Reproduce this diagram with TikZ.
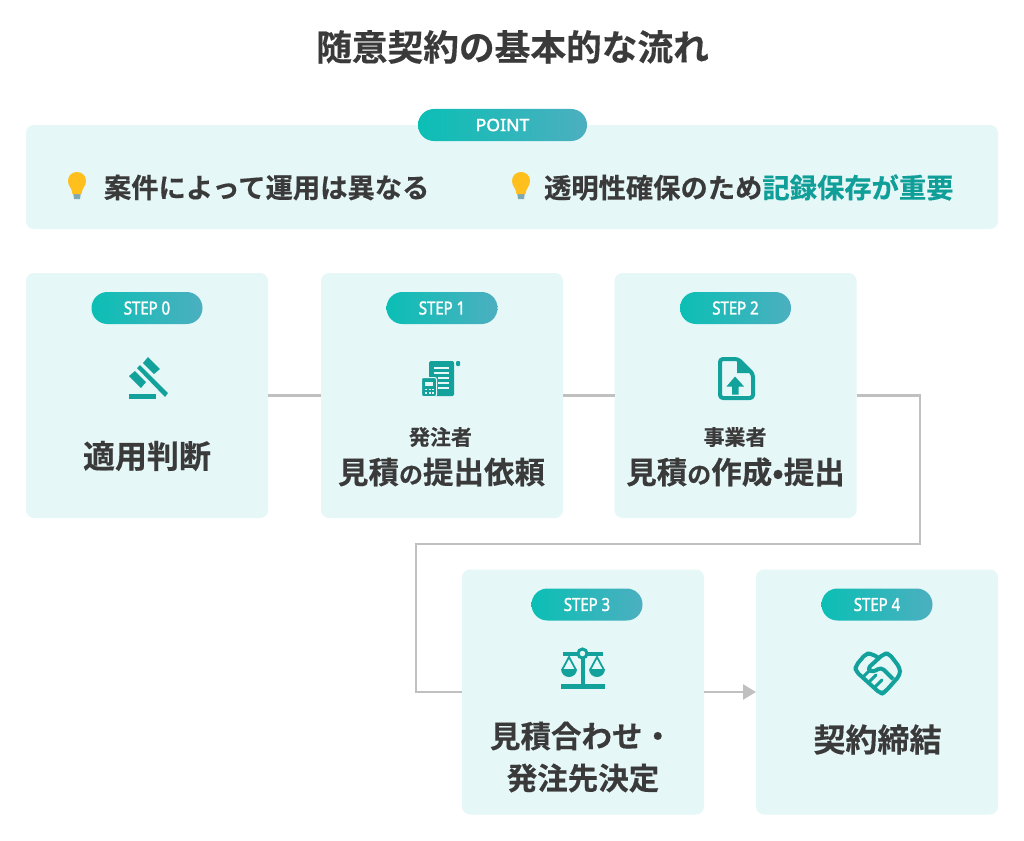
\documentclass[tikz,border=0pt]{standalone}
\usepackage{fontspec}
\setmainfont{Noto Sans CJK JP}[BoldFont={Noto Sans CJK JP Bold}, BoldFeatures={FakeBold=0.35}]
\newfontfamily\pillfont[FakeStretch=0.83, FakeBold=1.6]{Noto Sans}
\newfontfamily\pointfont[FakeStretch=1.04, FakeBold=2]{Noto Sans}
\usetikzlibrary{positioning,arrows.meta}
\definecolor{panelbg}{HTML}{E6F7F8}
\definecolor{inkdark}{HTML}{3A3A3A}
\definecolor{tealicon}{HTML}{12A19B}
\definecolor{tealtext}{HTML}{0F9F98}
\definecolor{pillleft}{HTML}{0BBFB5}
\definecolor{pillright}{HTML}{4CAFC0}
\definecolor{flowgray}{HTML}{C0C0C0}
\definecolor{bulbyellow}{HTML}{FFC01E}
\definecolor{bulbbase}{HTML}{7FA9B2}
\newcommand{\jp}[1]{\fontsize{#1}{#1}\selectfont\bfseries\color{inkdark}}
\begin{document}
\begin{tikzpicture}[x=1pt, y=-1pt, inner sep=0pt, outer sep=0pt,
    card/.style={rectangle, fill=panelbg, rounded corners=8pt, minimum width=242pt, minimum height=245pt},
    pill/.style={rectangle, rounded corners=15.9pt, left color=pillleft, right color=pillright, minimum height=32pt, text=white, font=\pillfont\fontsize{18}{18}\selectfont},
    steppill/.style={pill, minimum width=111pt},
    flowline/.style={draw=flowgray, line width=2.4pt},
    iconfill/.style={fill=tealicon, draw=none},
    iconline/.style={draw=tealicon, line width=4pt},
    bigtext/.style={font=\jp{32}, text=inkdark},
    midtext/.style={font=\jp{30.5}, text=inkdark},
    smalltext/.style={font=\jp{21}, text=inkdark},
    pointtext/.style={font=\jp{27.3}, text=inkdark}]

    \useasboundingbox (0,0) rectangle (1024,840);
    \fill[white] (0,0) rectangle (1024,840);

    % Title
    \node[font=\jp{35.7}, text=inkdark] (title) at (512.5,47) {随意契約の基本的な流れ};

    % Point panel
    \node[rectangle, fill=panelbg, rounded corners=8pt, minimum width=972pt, minimum height=104pt] (panel) at (512,177) {};
    \node[pill, minimum width=169pt, font=\pointfont\fontsize{17}{17}\selectfont] (point) at (502.5,125) {POINT};
    \node[pointtext, anchor=west] (case) at (104,187.5) {案件によって運用は異なる};
    \node[pointtext, anchor=west] (record) at (544,187.5) {透明性確保のため{\color{tealtext}記録保存が重要}};

    % Bulbs
    \foreach \bx in {77,521} {
        \fill[bulbbase] (\bx-4,192) -- (\bx+4,192) -- (\bx+3,199) -- (\bx-3,199) -- cycle;
        \fill[bulbyellow] (\bx-4.5,194) .. controls (\bx-5,188) and (\bx-9,186) .. (\bx-9,181)
            .. controls (\bx-9,169) and (\bx+9,169) .. (\bx+9,181)
            .. controls (\bx+9,186) and (\bx+5,188) .. (\bx+4.5,194) -- cycle;
    }

    % Cards
    \coordinate (bendA) at (920,544);
    \coordinate (bendB) at (416,544);
    \node[card] (step0) at (147,395.5) {};
    \node[card, right=53pt of step0] (step1) {};
    \node[card, right=51.5pt of step1] (step2) {};
    \node[card] (step3) at (583,692) {};
    \node[card, right=52pt of step3] (step4) {};

    % Connectors
    \draw[flowline] (step0) -- (step1);
    \draw[flowline] (step1) -- (step2);
    \draw[flowline] (step2.east) -| (bendA) -- (bendB) |- (step3.west);
    \draw[flowline, -{Triangle[length=13pt, width=15pt]}] (step3.east) -- (step4.west);

    % Step labels
    \node[steppill, below=19pt of step0.north] (pill0) {STEP 0};
    \node[steppill, below=19pt of step1.north] (pill1) {STEP 1};
    \node[steppill, below=19pt of step2.north] (pill2) {STEP 2};
    \node[steppill, below=19pt of step3.north, xshift=4pt] (pill3) {STEP 3};
    \node[steppill, below=19pt of step4.north] (pill4) {STEP 4};

    % Card texts
    \node[bigtext] (name0) at (147,456) {適用判断};
    \node[smalltext] (who1) at (440.5,437) {発注者};
    \node[midtext] (name1) at (441.5,472) {見積{\fontsize{24}{24}\selectfont の}提出依頼};
    \node[smalltext] (who2) at (735,437) {事業者};
    \node[midtext] (name2) at (735.5,472) {見積{\fontsize{24}{24}\selectfont の}作成•提出};
    \node[midtext] (name3a) at (581.5,736) {見積合わせ・};
    \node[midtext] (name3b) at (583,778) {発注先決定};
    \node[bigtext] (name4) at (877.5,739.5) {契約締結};

    % Gavel
    \fill[iconfill] (148,357) -- (160,369) -- (154,374) -- (143,363) -- cycle;
    \fill[iconfill] (135,371) -- (146,382) -- (141,388) -- (129,376) -- cycle;
    \fill[iconfill] (140,365) -- (168,393) -- (165,397) -- (137,368) -- cycle;
    \fill[iconfill] (129,394) rectangle (156,399);

    % Estimate sheet and calculator
    \fill[iconfill, rounded corners=1.5pt] (429,361) rectangle (454,396);
    \fill[iconfill, rounded corners=1pt] (456,361) rectangle (460,366);
    \foreach \ly/\lx in {368/434, 373/434, 378/438, 383/438, 388/438}
        \fill[panelbg] (\lx,\ly-0.8) rectangle (449,\ly+0.8);
    \fill[iconfill, rounded corners=2pt, draw=panelbg, line width=1pt] (421.5,377.5) rectangle (436.5,396.5);
    \fill[panelbg] (425,381.5) rectangle (432.5,386);
    \foreach \kx in {425,428.5,432} \foreach \ky in {388.5,392}
        \fill[panelbg] (\kx,\ky) rectangle ++(2.2,1.8);

    % File with upward arrow
    \draw[iconline, rounded corners=3pt, line join=round] (738,359) -- (720,359) -- (720,398) -- (753,398) -- (753,374) -- cycle;
    \fill[iconfill] (737,358) -- (737,373) -- (754,373) -- cycle;
    \fill[iconfill] (735,376.5) -- (744,386.5) -- (738.5,386.5) -- (738.5,394.5) -- (732,394.5) -- (732,386.5) -- (726.5,386.5) -- cycle;

    % Scales
    \fill[iconfill] (563,652) rectangle (603,656);
    \fill[iconfill] (580.5,656) rectangle (585,685);
    \fill[iconfill] (561,684) rectangle (605,689);
    \draw[draw=tealicon, line width=3pt, fill=panelbg] (582.5,653.5) circle (4.5pt);
    \foreach \px in {569,597} {
        \draw[draw=tealicon, line width=1.8pt] (\px-7,670) -- (\px,657) -- (\px+7,670);
        \fill[iconfill] (\px-8,669) -- (\px+8,669) arc[start angle=0, end angle=-180, radius=8pt] -- cycle;
    }

    % Handshake
    \draw[iconline, rounded corners=4pt, line join=round] (879,658) -- (871,653.5) -- (866,653.5) -- (855.5,666) -- (855.5,671) -- (881,694) -- (885,692) -- (900,675) -- (900,668) -- (889,653.5) -- (884,653.5) -- (867,669) -- (873,672.5) -- (881,667) -- (893,679);
    \foreach \fx/\fy in {863/677, 869/682, 875/687}
        \draw[draw=tealicon, line width=3pt, line cap=round] (\fx,\fy) -- ++(7,-7);
\end{tikzpicture}
\end{document}
